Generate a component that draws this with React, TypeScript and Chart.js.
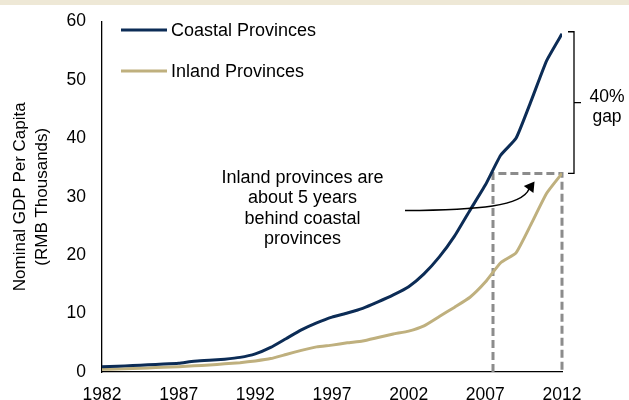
import React, { useEffect, useRef } from "react";
import { Chart, registerables } from "chart.js";

Chart.register(...registerables);

const years = [
  1982, 1983, 1984, 1985, 1986, 1987, 1988, 1989, 1990, 1991, 1992,
  1993, 1994, 1995, 1996, 1997, 1998, 1999, 2000, 2001, 2002,
  2003, 2004, 2005, 2006, 2007, 2008, 2009, 2010, 2011, 2012,
];
const coastal = [
  0.9, 1.0, 1.1, 1.25, 1.35, 1.5, 1.85, 2.0, 2.2, 2.5, 3.1,
  4.2, 5.7, 7.2, 8.4, 9.4, 10.1, 10.9, 12.0, 13.2, 14.6,
  16.8, 19.7, 23.3, 27.7, 32.0, 37.1, 40.0, 46.5, 53.3, 57.9,
];
const inland = [
  0.45, 0.5, 0.6, 0.7, 0.8, 0.9, 1.05, 1.2, 1.4, 1.6, 1.9,
  2.3, 3.0, 3.7, 4.3, 4.6, 5.0, 5.3, 5.9, 6.5, 7.0,
  7.9, 9.5, 11.1, 12.8, 15.4, 18.7, 20.4, 25.4, 30.6, 34.0,
];
const seriesNames = ["Coastal Provinces", "Inland Provinces"];
const seriesColors = ["#0C2C56", "#BFB07E"];
const xTickYears = [1982, 1987, 1992, 1997, 2002, 2007, 2012];
const yTicks = [0, 10, 20, 30, 40, 50, 60];
const yTitle = ["Nominal GDP Per Capita", "(RMB Thousands)"];
const noteLines = ["Inland provinces are", "about 5 years", "behind coastal", "provinces"];
const gapLines = ["40%", "gap"];
const boxStartYear = 2007.5;

const FONT = '"Liberation Sans", Arial, sans-serif';

const annotationPlugin = {
  id: "annotations",
  beforeDraw(chart: any) {
    const { ctx, width } = chart;
    ctx.save();
    ctx.fillStyle = "#ffffff";
    ctx.fillRect(0, 0, width, chart.height);
    ctx.fillStyle = "#EEE8D6";
    ctx.fillRect(0, 0, width, 5);
    ctx.restore();
  },
  beforeDatasetsDraw(chart: any) {
    const { ctx, scales } = chart;
    const x = scales.x;
    const y = scales.y;
    const lastYear = years[years.length - 1];
    const bx1 = x.getPixelForValue(boxStartYear);
    const bx2 = x.getPixelForValue(lastYear);
    const by = y.getPixelForValue(inland[inland.length - 1]);
    const yb = y.getPixelForValue(0);
    ctx.save();
    ctx.strokeStyle = "#8C8C8C";
    ctx.lineWidth = 3;
    ctx.setLineDash([8, 4]);
    ctx.beginPath();
    ctx.moveTo(bx1, yb);
    ctx.lineTo(bx1, by);
    ctx.lineTo(bx2, by);
    ctx.lineTo(bx2, yb);
    ctx.stroke();
    ctx.restore();
  },
  afterDraw(chart: any) {
    const { ctx, chartArea, scales } = chart;
    const x = scales.x;
    const y = scales.y;
    const P = (yr: number, v: number) => [x.getPixelForValue(yr), y.getPixelForValue(v)];

    // legend
    ctx.save();
    seriesNames.forEach((name, i) => {
      const ly = chartArea.top + 8.5 + i * 41;
      ctx.strokeStyle = seriesColors[i];
      ctx.lineWidth = 3;
      ctx.beginPath();
      ctx.moveTo(chartArea.left + 19, ly);
      ctx.lineTo(chartArea.left + 65, ly);
      ctx.stroke();
      ctx.fillStyle = "#000";
      ctx.font = `18px ${FONT}`;
      ctx.textAlign = "left";
      ctx.textBaseline = "middle";
      ctx.fillText(name, chartArea.left + 69, ly + 1);
    });
    ctx.restore();

    // bracket
    const topY = y.getPixelForValue(coastal[coastal.length - 1]) - 2;
    const botY = y.getPixelForValue(inland[inland.length - 1]);
    const bX = chartArea.right + 12;
    const mid = (topY + botY) / 2;
    ctx.save();
    ctx.strokeStyle = "#000";
    ctx.lineWidth = 1.3;
    ctx.beginPath();
    ctx.moveTo(bX - 6, topY);
    ctx.lineTo(bX, topY);
    ctx.lineTo(bX, botY);
    ctx.lineTo(bX - 6, botY);
    ctx.moveTo(bX, mid);
    ctx.lineTo(bX + 7, mid);
    ctx.stroke();
    ctx.fillStyle = "#000";
    ctx.font = `17.5px ${FONT}`;
    ctx.textAlign = "center";
    ctx.textBaseline = "alphabetic";
    ctx.fillText(gapLines[0], chartArea.right + 45, mid - 1);
    ctx.fillText(gapLines[1], chartArea.right + 45, mid + 19);
    ctx.restore();

    // note text
    ctx.save();
    ctx.fillStyle = "#000";
    ctx.font = `18px ${FONT}`;
    ctx.textAlign = "center";
    ctx.textBaseline = "alphabetic";
    const [nx, ny] = P(1995.08, 32.35);
    noteLines.forEach((t, i) => ctx.fillText(t, nx, ny + i * 20.4));
    ctx.restore();

    // arrow
    const s = P(2001.76, 27.65);
    const c1 = P(2006.65, 27.73);
    const c2 = P(2009.39, 28.42);
    const e = P(2009.85, 31.33);
    const tip = P(2010.21, 32.61);
    ctx.save();
    ctx.strokeStyle = "#000";
    ctx.lineWidth = 1.5;
    ctx.beginPath();
    ctx.moveTo(s[0], s[1]);
    ctx.bezierCurveTo(c1[0], c1[1], c2[0], c2[1], e[0], e[1]);
    ctx.stroke();
    const ang = Math.atan2(tip[1] - e[1], tip[0] - e[0]);
    const len = 10;
    const hw = 6;
    const bxm = tip[0] - len * Math.cos(ang);
    const bym = tip[1] - len * Math.sin(ang);
    ctx.fillStyle = "#000";
    ctx.beginPath();
    ctx.moveTo(tip[0], tip[1]);
    ctx.lineTo(bxm + hw * Math.sin(ang), bym - hw * Math.cos(ang));
    ctx.lineTo(bxm - hw * Math.sin(ang), bym + hw * Math.cos(ang));
    ctx.closePath();
    ctx.fill();
    ctx.restore();
  },
};

export default function App() {
  const canvasRef = useRef<HTMLCanvasElement | null>(null);

  useEffect(() => {
    if (!canvasRef.current) return;
    const chart = new Chart(canvasRef.current, {
      type: "line",
      data: {
        datasets: [
          {
            label: seriesNames[0],
            data: years.map((yr, i) => ({ x: yr, y: coastal[i] })),
            borderColor: seriesColors[0],
            backgroundColor: seriesColors[0],
            borderWidth: 3,
            pointRadius: 0,
            tension: 0.15,
          },
          {
            label: seriesNames[1],
            data: years.map((yr, i) => ({ x: yr, y: inland[i] })),
            borderColor: seriesColors[1],
            backgroundColor: seriesColors[1],
            borderWidth: 3,
            pointRadius: 0,
            tension: 0.15,
          },
        ],
      },
      options: {
        responsive: false,
        animation: false,
        devicePixelRatio: 1,
        layout: { autoPadding: false, padding: { top: 21.5, right: 67, left: 0, bottom: 0 } },
        plugins: {
          legend: { display: false },
          tooltip: { enabled: false },
        },
        scales: {
          x: {
            type: "linear",
            min: years[0],
            max: years[years.length - 1],
            grid: { display: false, drawTicks: false },
            border: { display: true, color: "#000", width: 1.3 },
            afterBuildTicks: (scale: any) => {
              scale.ticks = xTickYears.map((v) => ({ value: v }));
            },
            afterFit: (scale: any) => {
              scale.height = 28;
              scale.paddingLeft = 0;
              scale.paddingRight = 0;
            },
            ticks: {
              color: "#000",
              font: { family: FONT, size: 17.5 },
              padding: 13,
              maxRotation: 0,
              autoSkip: false,
              callback: (v: any) => String(v),
            },
          },
          y: {
            type: "linear",
            min: yTicks[0],
            max: yTicks[yTicks.length - 1],
            grid: { display: false, drawTicks: false },
            border: { display: true, color: "#000", width: 1.3 },
            afterBuildTicks: (scale: any) => {
              scale.ticks = yTicks.map((v) => ({ value: v }));
            },
            afterFit: (scale: any) => {
              scale.width = 102;
              scale.paddingTop = 0;
              scale.paddingBottom = 0;
            },
            ticks: {
              color: "#000",
              font: { family: FONT, size: 17.5 },
              padding: 16,
              callback: (v: any) => String(v),
            },
            title: {
              display: true,
              text: yTitle,
              color: "#000",
              font: { family: FONT, size: 17, lineHeight: 1.25 },
              padding: { top: 10, bottom: 0 },
            },
          },
        },
      } as any,
      plugins: [annotationPlugin],
    });
    return () => chart.destroy();
  }, []);

  return (
    <div style={{ position: "fixed", left: 0, top: 0, width: 629, height: 400, background: "#fff" }}>
      <canvas ref={canvasRef} width={629} height={400} style={{ display: "block" }} />
    </div>
  );
}
